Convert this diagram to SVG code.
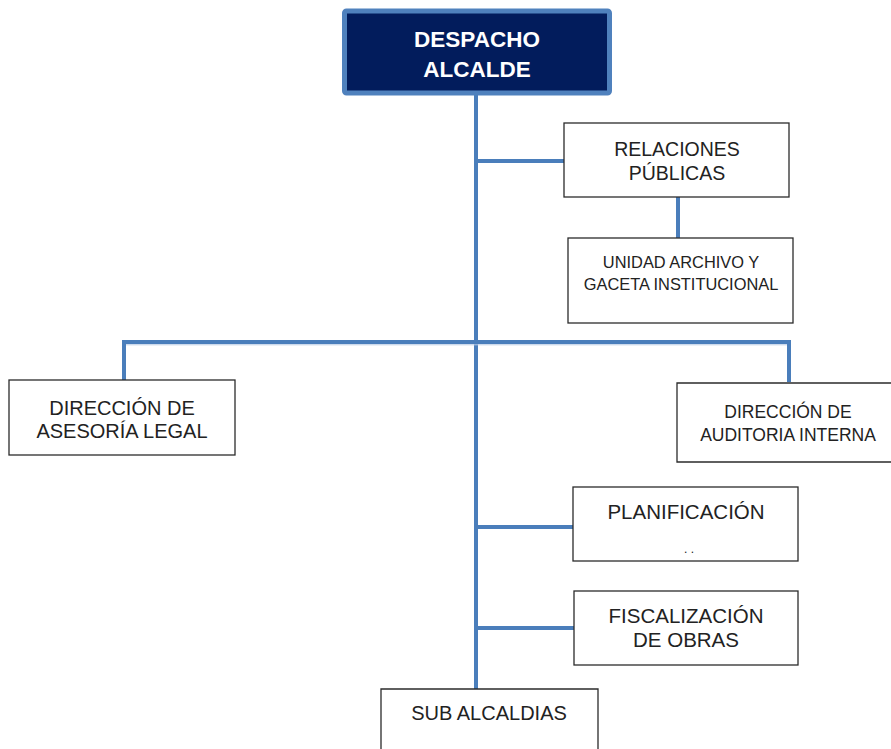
<svg xmlns="http://www.w3.org/2000/svg" width="891" height="749" viewBox="0 0 891 749">
<style>
.box{fill:#fff;stroke:#2b2b2b;stroke-width:1.3}
.t{font-family:"Liberation Sans",Arial,sans-serif;fill:#222;text-anchor:middle}
.c{stroke:#4a7ebb;stroke-width:4;fill:none}
</style>
<rect width="891" height="749" fill="#fff"/>
<g id="connectors">
<line class="c" x1="476" y1="95" x2="476" y2="689"/>
<line class="c" x1="476" y1="161" x2="564" y2="161"/>
<line class="c" x1="678" y1="197" x2="678" y2="238"/>
<polyline class="c" points="124,380 124,342 789,342 789,382"/>
<line x1="126" y1="344.8" x2="787" y2="344.8" stroke="#b8cbe4" stroke-width="1"/>
<line class="c" x1="476" y1="527" x2="573" y2="527"/>
<line class="c" x1="476" y1="628" x2="574" y2="628"/>
</g>
<g id="despacho">
<rect x="344.5" y="11" width="265" height="82" rx="2" fill="#021c5c" stroke="#4f81bd" stroke-width="5"/>
<text class="t" x="477" y="47" font-size="22.5" font-weight="bold" style="fill:#fff">DESPACHO</text>
<text class="t" x="477" y="77" font-size="22.5" font-weight="bold" style="fill:#fff">ALCALDE</text>
</g>
<g id="relaciones">
<rect class="box" x="564" y="123" width="225" height="74"/>
<text class="t" x="677" y="156" font-size="19.5">RELACIONES</text>
<text class="t" x="677" y="180" font-size="19.5">PÚBLICAS</text>
</g>
<g id="unidad">
<rect class="box" x="568" y="238" width="225" height="85"/>
<text class="t" x="681" y="268" font-size="16.4">UNIDAD ARCHIVO Y</text>
<text class="t" x="681" y="290" font-size="16.4">GACETA INSTITUCIONAL</text>
</g>
<g id="asesoria">
<rect class="box" x="9" y="380" width="226" height="75"/>
<text class="t" x="122" y="415" font-size="20">DIRECCIÓN DE</text>
<text class="t" x="122" y="438" font-size="20">ASESORÍA LEGAL</text>
</g>
<g id="auditoria">
<path class="box" d="M893,383 H677 V462 H893"/>
<text class="t" x="788" y="418" font-size="17.5">DIRECCIÓN DE</text>
<text class="t" x="788" y="441" font-size="17.5">AUDITORIA INTERNA</text>
</g>
<g id="planificacion">
<rect class="box" x="573" y="487" width="225" height="74"/>
<text class="t" x="686" y="519" font-size="20.5">PLANIFICACIÓN</text>
<text class="t" x="689" y="553" font-size="12">. .</text>
</g>
<g id="fiscalizacion">
<rect class="box" x="574" y="591" width="224" height="74"/>
<text class="t" x="686" y="623" font-size="20.5">FISCALIZACIÓN</text>
<text class="t" x="686" y="647" font-size="20.5">DE OBRAS</text>
</g>
<g id="subalcaldias">
<path class="box" d="M381,752 V689 H598 V752"/>
<text class="t" x="489" y="720" font-size="20">SUB ALCALDIAS</text>
</g>
</svg>
